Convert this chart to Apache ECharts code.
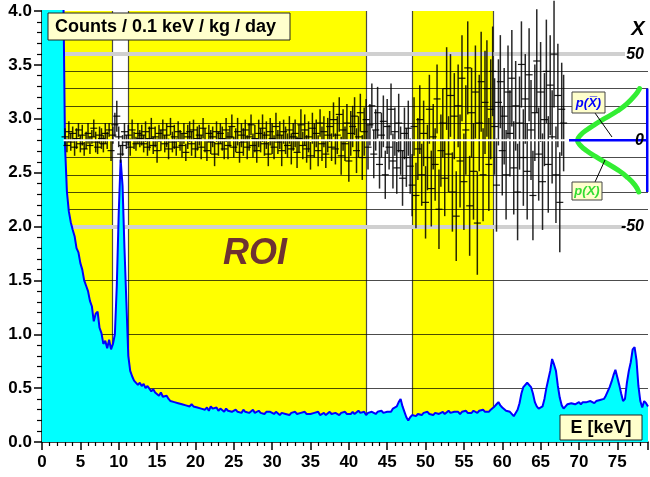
<!DOCTYPE html>
<html>
<head>
<meta charset="utf-8">
<script src="https://cdn.jsdelivr.net/npm/echarts@6/dist/echarts.min.js"></script>
<style>
  html, body { margin: 0; padding: 0; background: #fff; }
  #chart { width: 650px; height: 477px; }
</style>
</head>
<body>
<div id="chart"></div>
<script>
// spectrum, one value per 0.25 keV starting at 0 keV (counts / 0.1 keV / kg / day)
const energyStep = 0.25;
const spectrum = [
  9.5, 9.2, 8.8, 8.4, 8.0, 7.6, 7.2, 6.8, 6.4, 6.0, 5.6, 4.4, 2.75, 2.32, 2.14, 2.04, 1.97, 1.91, 1.80, 1.76,
  1.66, 1.60, 1.50, 1.45, 1.40, 1.31, 1.26, 1.12, 1.19, 1.21, 1.06, 1.01, 0.91, 0.94, 0.87, 0.95, 0.86, 0.91, 1.00, 1.45,
  2.12, 2.62, 2.38, 1.80, 1.30, 0.80, 0.66, 0.61, 0.57, 0.56, 0.53, 0.55, 0.52, 0.54, 0.50, 0.52, 0.51, 0.47, 0.49, 0.46,
  0.45, 0.43, 0.46, 0.42, 0.41, 0.43, 0.40, 0.38, 0.39, 0.37, 0.38, 0.36, 0.37, 0.35, 0.36, 0.34, 0.35, 0.33, 0.35, 0.33,
  0.34, 0.32, 0.33, 0.31, 0.32, 0.30, 0.32, 0.29, 0.33, 0.31, 0.30, 0.32, 0.29, 0.31, 0.30, 0.28, 0.31, 0.29, 0.30, 0.28,
  0.29, 0.30, 0.28, 0.29, 0.27, 0.30, 0.28, 0.29, 0.27, 0.28, 0.30, 0.27, 0.28, 0.29, 0.27, 0.28, 0.26, 0.28, 0.27, 0.28,
  0.27, 0.26, 0.28, 0.27, 0.25, 0.27, 0.28, 0.26, 0.27, 0.25, 0.27, 0.26, 0.28, 0.26, 0.25, 0.27, 0.26, 0.28, 0.26, 0.27,
  0.26, 0.25, 0.27, 0.26, 0.28, 0.25, 0.26, 0.27, 0.25, 0.26, 0.28, 0.26, 0.25, 0.27, 0.26, 0.25, 0.27, 0.26, 0.28, 0.26,
  0.27, 0.26, 0.28, 0.26, 0.27, 0.29, 0.27, 0.26, 0.28, 0.25, 0.27, 0.26, 0.28, 0.27, 0.26, 0.28, 0.27, 0.29, 0.27, 0.28,
  0.28, 0.29, 0.28, 0.31, 0.30, 0.33, 0.37, 0.40, 0.33, 0.28, 0.23, 0.20, 0.23, 0.25, 0.26, 0.24, 0.26, 0.27, 0.25, 0.27,
  0.26, 0.28, 0.26, 0.27, 0.25, 0.27, 0.28, 0.26, 0.27, 0.28, 0.26, 0.27, 0.29, 0.27, 0.26, 0.28, 0.27, 0.28, 0.26, 0.28,
  0.27, 0.29, 0.27, 0.28, 0.27, 0.29, 0.28, 0.27, 0.29, 0.28, 0.30, 0.28, 0.29, 0.28, 0.30, 0.31, 0.33, 0.35, 0.37, 0.34,
  0.32, 0.31, 0.29, 0.30, 0.28, 0.27, 0.24, 0.23, 0.30, 0.36, 0.45, 0.51, 0.52, 0.55, 0.56, 0.51, 0.45, 0.37, 0.33, 0.31,
  0.31, 0.33, 0.40, 0.50, 0.58, 0.66, 0.77, 0.72, 0.66, 0.52, 0.41, 0.34, 0.31, 0.33, 0.35, 0.34, 0.36, 0.37, 0.35, 0.36,
  0.37, 0.35, 0.37, 0.36, 0.37, 0.36, 0.38, 0.37, 0.36, 0.38, 0.37, 0.39, 0.38, 0.40, 0.43, 0.47, 0.51, 0.56, 0.62, 0.67,
  0.60, 0.53, 0.45, 0.38, 0.40, 0.55, 0.66, 0.74, 0.86, 0.88, 0.76, 0.52, 0.38, 0.32, 0.38, 0.36, 0.33
];

// X statistic with errors, one point per 0.25 keV starting at 3 keV (right axis)
const sigStart = 3.0;
const sigValues = [
  2, -3, 5, -1, 4, -4, 1, 6, -2, 3, -5, 0, 4, -3, 2, 7, -1, -4, 3, 1,
  -2, 4, 0, 6, -6, 3, 9, 14, 2, -8, -3, 5, -1, 3, -4, 6, 0, -2, 4, 1,
  3, -2, 5, -4, 1, 7, -3, 2, -6, 4, 0, 6, -2, 3, -5, 8, -1, 2, -4, 5,
  0, -3, 4, -7, 2, 5, -2, 6, -5, 1, 3, -4, 7, 0, -6, 4, -1, 2, -8, 5,
  -2, 4, 1, -5, 6, -3, 2, 8, -4, 0, 5, -7, 3, -1, 6, -4, 2, 9, -3, 1,
  -6, 4, 0, 7, -2, 3, -8, 5, 1, -4, 8, -1, 3, -6, 5, 0, -3, 6, -5, 2,
  4, -7, 1, 9, -3, 6, -5, 2, -9, 7, 0, 4, -6, 10, -2, 5, -8, 3, 8, -4,
  12, -5, 3, 15, -9, 6, -2, 10, -12, 4, 8, 14, -6, 2, 16, -10, 5, 12, -4, 9,
  20, -8, 6, 16, -14, 3, 11, -20, 8, -4, 18, -12, 5, -16, 10, -6, -22, 4, -10, 7,
  -15, -26, 8, -32, -5, 12, -20, 4, -36, -10, 18, -28, 2, -14, 24, -40, -6, 10, -22, 30,
  -8, 26, -30, 14, -44, 20, -12, 36, -24, 6, 42, -38, 16, -18, 28, -48, 10, 34, -20, 22,
  30, -14, 18, 40, 8, -26, 22, 34, -6, 14, -20, 28, 4, 36, -16, 20, -30, 10, 44, -10,
  24, -18, 38, 6, -32, 16, 46, -8, 28, -24, 12, 40, -14, 32, 2, 50, -20, 26, -36, 18,
  10
];
const sigErrors = [
  5, 4, 6, 5, 4, 5, 6, 4, 5, 6, 4, 5, 6, 5, 4, 5, 6, 4, 5, 6,
  5, 6, 5, 4, 6, 5, 7, 9, 6, 5, 6, 5, 4, 6, 5, 6, 5, 4, 6, 5,
  6, 5, 6, 5, 7, 6, 5, 6, 7, 5, 6, 6, 5, 7, 6, 5, 6, 7, 5, 6,
  6, 7, 6, 5, 7, 6, 7, 6, 5, 7, 6, 7, 6, 7, 6, 5, 7, 6, 7, 6,
  7, 6, 7, 6, 7, 8, 6, 7, 6, 7, 8, 6, 7, 8, 6, 7, 8, 6, 7, 8,
  7, 8, 7, 8, 7, 8, 7, 8, 9, 7, 8, 7, 8, 9, 7, 8, 7, 8, 9, 8,
  8, 9, 8, 9, 8, 9, 8, 9, 8, 9, 10, 8, 9, 8, 10, 9, 8, 10, 9, 8,
  10, 9, 11, 10, 11, 12, 10, 11, 12, 13, 12, 11, 13, 12, 11, 13, 14, 12, 13, 12,
  13, 14, 12, 15, 14, 13, 15, 14, 16, 13, 15, 16, 14, 15, 17, 14, 16, 15, 17, 16,
  16, 18, 17, 19, 18, 20, 18, 19, 21, 19, 20, 22, 19, 21, 20, 23, 21, 20, 22, 24,
  22, 24, 23, 25, 26, 24, 27, 25, 28, 26, 27, 29, 26, 28, 27, 30, 28, 29, 27, 30,
  28, 27, 29, 26, 28, 27, 25, 27, 26, 28, 26, 27, 25, 28, 27, 26, 28, 27, 25, 28,
  26, 28, 27, 29, 26, 28, 30, 27, 29, 28, 27, 30, 28, 29, 27, 31, 28, 30, 29, 27,
  28
];

// ROI bands (keV)
const roiStarts = [2.8, 11.3, 48.3];
const roiEnds = [9.13, 42.25, 58.8];
const bandEdges = [9.13, 11.3, 42.25, 48.3, 58.8];

// reference lines
const yGridLines = [0.5, 1.0, 1.5];
const xGridLines = [-40, -30, -20, -10, 10, 20, 30, 40];
const xRefLines = [-50, 50];
const xRefLineEnd = 76;
const xAxisLabels = [-50, 0, 50];

// p(X) curve, energy position vs X
const pCurveE = [77.9, 77.3, 76.2, 75.0, 73.5, 72.2, 71.0, 70.2, 69.8, 70.2, 71.0, 72.2, 73.5, 75.0, 76.2, 77.3, 77.8];
const pCurveX = [30, 26, 21, 17, 13, 9.5, 6, 3, 0, -3, -6, -9.5, -13, -17, -21, -26, -30];
// p(Xbar): zero line and bar
const zeroWhiteE = [2.8, 68.7];
const zeroBlueE = [68.7, 79];
const pBarE = 78.9;
const pBarX = [-30, 30];

const FONT = '"Liberation Sans", Arial, Helvetica, sans-serif';

const chart = echarts.init(document.getElementById('chart'));

function renderErr(params, api) {
  const e = api.value(0), v = api.value(1), er = api.value(2);
  const top = api.coord([e, v + er]);
  const bot = api.coord([e, v - er]);
  const mid = api.coord([e, v]);
  return {
    type: 'group',
    children: [
      {type: 'line', shape: {x1: top[0], y1: top[1], x2: bot[0], y2: bot[1]},
        style: {stroke: '#000', lineWidth: 1.5, opacity: 0.85}},
      {type: 'line', shape: {x1: mid[0] - 3.5, y1: mid[1], x2: mid[0] + 3.5, y2: mid[1]},
        style: {stroke: '#000', lineWidth: 1.2, opacity: 0.9}}
    ]
  };
}

const lineDark = {color: 'rgba(0,0,0,0.7)', width: 1.2, type: 'solid'};
const boxStyle = {fill: '#ffffcc', stroke: '#222', lineWidth: 1};

let option = {
  animation: false,
  backgroundColor: '#fff',
  grid: {left: 42, right: 2, top: 11, bottom: 35},
  xAxis: {
    type: 'value',
    min: 0,
    max: 79,
    interval: 5,
    axisLine: {lineStyle: {color: '#000', width: 1.5}},
    axisTick: {length: 8, lineStyle: {color: '#000', width: 1.5}},
    minorTick: {show: true, splitNumber: 5, length: 4, lineStyle: {color: '#000', width: 1.2}},
    splitLine: {show: false},
    axisLabel: {
      color: '#000', fontFamily: FONT, fontWeight: 'bold', fontSize: 17, margin: 12,
      showMaxLabel: false,
      formatter: v => (v % 5 === 0 ? String(v) : '')
    }
  },
  yAxis: [
    {
      type: 'value',
      min: 0,
      max: 4,
      interval: 0.5,
      axisLine: {show: true, lineStyle: {color: '#000', width: 1.5}},
      axisTick: {show: true, length: 8, lineStyle: {color: '#000', width: 1.5}},
      minorTick: {show: true, splitNumber: 5, length: 5, lineStyle: {color: '#000', width: 1.2}},
      splitLine: {show: false},
      axisLabel: {
        color: '#000', fontFamily: FONT, fontWeight: 'bold', fontSize: 17, margin: 10,
        formatter: v => v.toFixed(1)
      }
    },
    {
      type: 'value',
      position: 'right',
      min: -175,
      max: 75,
      interval: 25,
      z: 30,
      axisLine: {show: false},
      axisTick: {show: false},
      splitLine: {show: false},
      axisLabel: {
        inside: true, margin: 4,
        color: '#000', fontFamily: FONT, fontWeight: 'bold', fontStyle: 'italic', fontSize: 16,
        formatter: v => (xAxisLabels.indexOf(v) >= 0 ? String(v) : '')
      }
    }
  ],
  series: [
    {
      // ROI bands and grid lines in keV / counts space
      type: 'line',
      data: [],
      z: 1,
      silent: true,
      markArea: {
        silent: true,
        itemStyle: {color: '#ffff00'},
        data: roiStarts.map((s, i) => [{xAxis: s, yAxis: 0}, {xAxis: roiEnds[i], yAxis: 4}])
      },
      markLine: {
        silent: true,
        symbol: 'none',
        label: {show: false},
        lineStyle: lineDark,
        data: bandEdges.map(e => ({xAxis: e})).concat(yGridLines.map(y => ({yAxis: y})))
      }
    },
    {
      // grid lines of the X scale
      type: 'line',
      yAxisIndex: 1,
      data: [],
      z: 1,
      silent: true,
      markLine: {
        silent: true,
        symbol: 'none',
        label: {show: false},
        lineStyle: lineDark,
        data: xGridLines.map(x => ({yAxis: x}))
          .concat(xRefLines.map(x => [
            {xAxis: 0, yAxis: x, lineStyle: {color: '#d0d0d0', width: 4}},
            {xAxis: xRefLineEnd, yAxis: x}
          ]))
      }
    },
    {
      name: 'spectrum',
      type: 'line',
      z: 10,
      showSymbol: false,
      symbol: 'none',
      clip: true,
      lineStyle: {color: '#0000ff', width: 2},
      areaStyle: {color: '#00ffff', opacity: 1},
      data: spectrum.map((v, i) => [i * energyStep, v])
    },
    {
      name: 'p(X)',
      type: 'line',
      yAxisIndex: 1,
      z: 11,
      smooth: true,
      showSymbol: false,
      symbol: 'none',
      lineStyle: {color: '#33ee33', width: 5, cap: 'round'},
      data: pCurveE.map((e, i) => [e, pCurveX[i]])
    },
    {
      name: 'p(Xbar) line',
      type: 'line',
      yAxisIndex: 1,
      z: 12,
      showSymbol: false,
      symbol: 'none',
      lineStyle: {color: '#0000ff', width: 2.5},
      data: zeroBlueE.map(e => [e, 0])
    },
    {
      name: 'p(Xbar) bar',
      type: 'line',
      yAxisIndex: 1,
      z: 12,
      showSymbol: false,
      symbol: 'none',
      lineStyle: {color: '#0000ff', width: 2.5},
      data: pBarX.map(x => [pBarE, x])
    },
    {
      name: 'X',
      type: 'custom',
      yAxisIndex: 1,
      z: 13,
      renderItem: renderErr,
      encode: {x: 0, y: 1},
      data: sigValues.map((v, i) => [sigStart + i * energyStep, v, sigErrors[i]])
    },
    {
      name: 'zero',
      type: 'line',
      yAxisIndex: 1,
      z: 14,
      showSymbol: false,
      symbol: 'none',
      lineStyle: {color: '#ffffff', width: 2},
      data: zeroWhiteE.map(e => [e, 0])
    }
  ],
  graphic: [
    {type: 'rect', z: 100, shape: {x: 48, y: 13, width: 242, height: 27}, style: boxStyle},
    {type: 'text', z: 101, x: 55, y: 27,
      style: {text: 'Counts / 0.1 keV / kg / day', font: 'bold 18px ' + FONT,
        fill: '#000', verticalAlign: 'middle'}},
    {type: 'rect', z: 100, shape: {x: 560, y: 415, width: 82, height: 25}, style: boxStyle},
    {type: 'text', z: 101, x: 601, y: 428,
      style: {text: 'E [keV]', font: 'bold 18px ' + FONT, fill: '#000',
        align: 'center', verticalAlign: 'middle'}},
    {type: 'text', z: 100, x: 223, y: 254,
      style: {text: 'ROI', font: 'italic bold 36px ' + FONT, fill: '#6e3232', verticalAlign: 'middle'}},
    {type: 'text', z: 100, x: 638, y: 29,
      style: {text: 'X', font: 'italic bold 20px ' + FONT, fill: '#000', align: 'center', verticalAlign: 'middle'}},
    {type: 'line', z: 100, shape: {x1: 595, y1: 113, x2: 612, y2: 137}, style: {stroke: '#000', lineWidth: 1}},
    {type: 'rect', z: 100, shape: {x: 572, y: 92, width: 33, height: 21},
      style: {fill: '#ffffcc', stroke: '#444', lineWidth: 1}},
    {type: 'text', z: 101, x: 588.5, y: 103,
      style: {text: 'p(X\u0305)', font: 'italic bold 13px ' + FONT, fill: '#0000ff',
        align: 'center', verticalAlign: 'middle'}},
    {type: 'line', z: 100, shape: {x1: 595, y1: 182, x2: 605, y2: 160}, style: {stroke: '#000', lineWidth: 1}},
    {type: 'rect', z: 100, shape: {x: 572, y: 182, width: 30, height: 18},
      style: {fill: '#ffffcc', stroke: '#444', lineWidth: 1}},
    {type: 'text', z: 101, x: 587, y: 191,
      style: {text: 'p(X)', font: 'italic bold 13px ' + FONT, fill: '#33dd33',
        align: 'center', verticalAlign: 'middle'}}
  ]
};

chart.setOption(option);
</script>
</body>
</html>
